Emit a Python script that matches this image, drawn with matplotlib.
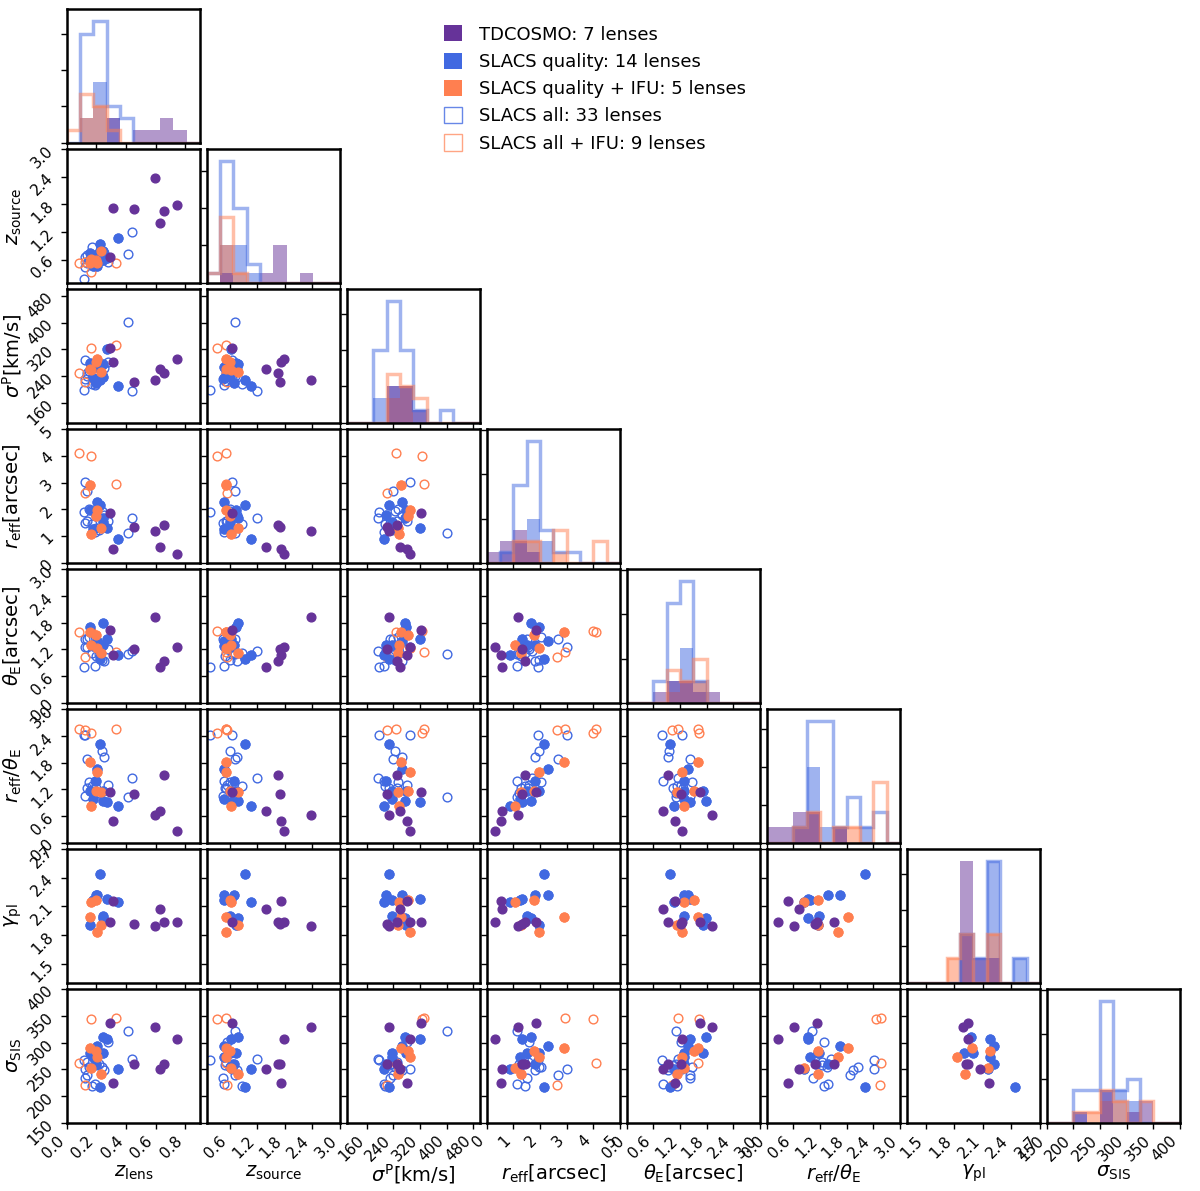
import numpy as np
import matplotlib
matplotlib.use("Agg")
import matplotlib.pyplot as plt
from matplotlib.patches import Patch
from matplotlib.ticker import MaxNLocator
from matplotlib.colors import to_rgba

# TDCOSMO: RXJ1131, PG1115, HE0435, DES0408, B1608, WFI2033, SDSS1206
tdc_zl = [0.295, 0.311, 0.455, 0.597, 0.630, 0.658, 0.745]
tdc_zs = [0.654, 1.722, 1.693, 2.375, 1.394, 1.662, 1.789]
tdc_sigp = [323, 281, 222, 227, 260, 250, 290]
tdc_reff = [1.85, 0.52, 1.33, 1.19, 0.58, 1.42, 0.33]
tdc_thetae = [1.64, 1.08, 1.215, 1.92, 0.81, 0.94, 1.25]
tdc_gamma = [1.94, 2.16, 1.92, 1.89, 2.07, 1.94, 1.94]
tdc_sigsis = [336, 224, 259, 329, 251, 259, 307]

# SLACS: 9 quality, 5 quality + IFU, 4 IFU only, 15 others
slacs_zl = [0.157, 0.175, 0.207, 0.225, 0.247, 0.247, 0.270, 0.348, 0.200,
            0.157, 0.162, 0.198, 0.202, 0.229,
            0.083, 0.162, 0.333, 0.124,
            0.119, 0.124, 0.139, 0.153, 0.121, 0.139, 0.169, 0.191, 0.236,
            0.220, 0.281, 0.416, 0.440, 0.200, 0.250]
slacs_zs = [0.745, 0.47, 0.47, 0.93, 0.60, 0.79, 0.63, 1.07, 0.69,
            0.53, 0.62, 0.60, 0.53, 0.78,
            0.53, 0.33, 0.52, 0.55,
            0.18, 0.65, 0.71, 0.60, 0.45, 0.52, 0.87, 0.47, 0.60,
            0.66, 0.55, 0.72, 1.19, 0.50, 0.75]
slacs_sigp = [279, 235, 267, 228, 237, 276, 321, 211, 218,
              262, 258, 283, 290, 253,
              248, 325, 332, 222,
              198, 289, 240, 255, 230, 250, 215, 213, 245,
              235, 282, 401, 194, 226, 265]
slacs_reff = [1.98, 1.25, 2.29, 2.16, 1.52, 1.66, 1.31, 0.89, 1.80,
              2.91, 1.08, 1.76, 1.98, 1.29,
              4.10, 4.00, 2.95, 2.62,
              1.91, 3.02, 2.69, 2.02, 1.50, 1.56, 1.44, 1.14, 1.95,
              1.22, 1.57, 1.12, 1.69, 1.30, 1.80]
slacs_thetae = [1.71, 1.28, 1.39, 0.975, 1.30, 1.785, 1.425, 1.07, 1.30,
                1.60, 1.30, 1.52, 1.24, 1.125,
                1.60, 1.62, 1.15, 1.03,
                0.79, 1.25, 1.43, 1.48, 1.425, 1.26, 1.125, 0.825, 0.95,
                1.10, 1.215, 1.10, 1.16, 1.05, 0.93]
slacs_gamma = [1.90, 2.17, 2.22, 2.44, 2.00, 1.98, 2.18, 2.15, 2.22,
               1.985, 2.15, 2.17, 1.83, 1.91] + [np.nan] * 19
slacs_sigsis = [280, 273, 294, 216, 281, 311, 307, 250, 259,
                289, 252, 284, 273, 242,
                261, 345, 347, 221,
                268, 251, 240, 255, 234, 263, 219, 222, 255,
                260, 302, 322, 270, 258, 248]
slacs_quality = [1] * 14 + [0] * 19
slacs_ifu = [0] * 9 + [1] * 9 + [0] * 15

labels = [r'$z_{\rm lens}$', r'$z_{\rm source}$', r'$\sigma^{\rm P}$[km/s]',
          r'$r_{\rm eff}$[arcsec]', r'$\theta_{\rm E}$[arcsec]',
          r'$r_{\rm eff}/\theta_{\rm E}$', r'$\gamma_{\rm pl}$', r'$\sigma_{\rm SIS}$']
ranges = [(0, 0.9), (0.1, 3.0), (100, 500), (0, 5), (0, 3), (0, 3), (1.3, 2.7), (150, 400)]
ticks = [[0, 0.2, 0.4, 0.6, 0.8], [0.6, 1.2, 1.8, 2.4, 3.0], [160, 240, 320, 400, 480],
         [0, 1, 2, 3, 4, 5], [0, 0.6, 1.2, 1.8, 2.4, 3.0], [0, 0.6, 1.2, 1.8, 2.4, 3.0],
         [1.5, 1.8, 2.1, 2.4, 2.7], [150, 200, 250, 300, 350, 400]]

purple = 'rebeccapurple'
blue = 'royalblue'
orange = 'coral'

tdc = np.array([tdc_zl, tdc_zs, tdc_sigp, tdc_reff, tdc_thetae,
                np.array(tdc_reff) / np.array(tdc_thetae), tdc_gamma, tdc_sigsis], dtype=float)
sl = np.array([slacs_zl, slacs_zs, slacs_sigp, slacs_reff, slacs_thetae,
               np.array(slacs_reff) / np.array(slacs_thetae), slacs_gamma, slacs_sigsis], dtype=float)
qual = np.array(slacs_quality) == 1
ifu = np.array(slacs_ifu) == 1

groups_open = [(~ifu, blue), (ifu, orange)]
groups_fill = [(qual & ~ifu, blue), (qual & ifu, orange)]

fig = plt.figure(figsize=(12, 11.91), dpi=100)
W, H = 1200.0, 1191.0
n = 8
for i in range(n):
    for j in range(i + 1):
        ax = fig.add_axes([(66.7 + 140 * j) / W, 1 - (9.3 + 140 * i + 133.3) / H,
                           133.3 / W, 133.3 / H])
        for s in ax.spines.values():
            s.set_linewidth(1.8)
        ax.tick_params(direction='out', length=4, width=1, labelsize=11)
        ax.set_xlim(ranges[j])
        ax.set_xticks(ticks[j])
        if i == j:
            bins = np.linspace(ranges[j][0], ranges[j][1], 11)
            cmax = 0
            for mask, c in groups_fill:
                v = sl[j][mask]
                v = v[~np.isnan(v)]
                cnt, _, _ = ax.hist(v, bins=bins, histtype='stepfilled', color=c, alpha=0.5)
                cmax = max(cmax, cnt.max())
            cnt, _, _ = ax.hist(tdc[j], bins=bins, histtype='stepfilled', color=purple, alpha=0.5)
            cmax = max(cmax, cnt.max())
            for mask, c in groups_open:
                v = sl[j][mask]
                v = v[~np.isnan(v)]
                cnt, _, _ = ax.hist(v, bins=bins, histtype='step', color=c, alpha=0.5, lw=2.5)
                cmax = max(cmax, cnt.max())
            ax.set_ylim(0, 1.1 * cmax)
            ax.yaxis.set_major_locator(MaxNLocator(4))
            ax.set_yticklabels([])
        else:
            for mask, c in groups_open:
                ax.plot(sl[j][mask], sl[i][mask], 'o', mfc='none', mec=c, ms=6.3, mew=1)
            for mask, c in groups_fill:
                ax.plot(sl[j][mask], sl[i][mask], 'o', color=c, ms=6.3)
            ax.plot(tdc[j], tdc[i], 'o', color=purple, ms=6.3)
            ax.set_ylim(ranges[i])
            ax.set_yticks(ticks[i])
            if j == 0:
                ax.tick_params(axis='y', labelrotation=45)
                ax.set_ylabel(labels[i], fontsize=14)
                ax.yaxis.set_label_coords(-0.32, 0.5)
            else:
                ax.set_yticklabels([])
        if i == n - 1:
            ax.tick_params(axis='x', labelrotation=45)
            for t in ax.get_xticklabels():
                t.set_ha('right')
            ax.set_xlabel(labels[j], fontsize=14)
            ax.xaxis.set_label_coords(0.5, -0.3)
        else:
            ax.set_xticklabels([])

handles = [Patch(fc=purple), Patch(fc=blue), Patch(fc=orange),
           Patch(fc='white', ec=to_rgba(blue, 0.8)), Patch(fc='white', ec=to_rgba(orange, 0.7))]
names = ['TDCOSMO: 7 lenses', 'SLACS quality: 14 lenses', 'SLACS quality + IFU: 5 lenses',
         'SLACS all: 33 lenses', 'SLACS all + IFU: 9 lenses']
fig.legend(handles, names, loc='upper left', bbox_to_anchor=(428 / W, 1 - 9 / H),
           frameon=False, fontsize=13, handlelength=1.0, handleheight=1.0,
           handletextpad=0.9, labelspacing=0.5)

fig.savefig('out.png', dpi=100)
